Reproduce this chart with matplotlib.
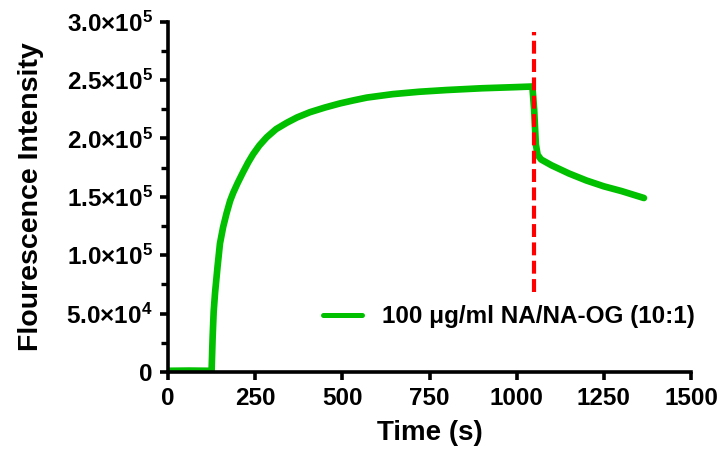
import matplotlib
matplotlib.use("Agg")
import matplotlib.pyplot as plt
from matplotlib.ticker import FixedLocator, MultipleLocator

# ----------------------------------------------------------------------
# Data
# ----------------------------------------------------------------------
time_s = [0, 60, 125, 128, 131, 135, 142, 149, 158, 168, 178, 187, 200,
          215, 230, 244, 262, 283, 310, 341, 370, 407, 450, 493, 530, 570,
          645, 720, 800, 900, 1000, 1045, 1050, 1055, 1060, 1070, 1100,
          1150, 1200, 1250, 1300, 1365]
intensity = [1000, 1200, 1000, 30000, 52000, 68000, 90000, 110000, 124000,
             136000, 146500, 153500, 162000, 171000, 179500, 186500, 194000,
             201000, 208000, 213500, 218000, 222500, 226500, 230000, 232500,
             235000, 238000, 240000, 241500, 243000, 244000, 244500, 225000,
             195000, 186000, 182000, 177000, 170000, 164000, 159000, 155000,
             149000]

event_time = 1050
event_span = [68500, 291000]

series_label = "100 \u03bcg/ml NA/NA-OG (10:1)"
x_ticks = [0, 250, 500, 750, 1000, 1250, 1500]
y_ticks = [0, 50000, 100000, 150000, 200000, 250000, 300000]
y_tick_labels = ["0", r"$\mathbf{5.0{\times}10^{4}}$",
                 r"$\mathbf{1.0{\times}10^{5}}$",
                 r"$\mathbf{1.5{\times}10^{5}}$",
                 r"$\mathbf{2.0{\times}10^{5}}$",
                 r"$\mathbf{2.5{\times}10^{5}}$",
                 r"$\mathbf{3.0{\times}10^{5}}$"]

# ----------------------------------------------------------------------
# Style
# ----------------------------------------------------------------------
plt.rcParams["font.family"] = ["Liberation Sans", "DejaVu Sans"]
plt.rcParams["font.weight"] = "bold"
plt.rcParams["mathtext.fontset"] = "custom"
plt.rcParams["mathtext.bf"] = "Liberation Sans:bold"
plt.rcParams["mathtext.rm"] = "Liberation Sans:bold"

GREEN = "#00C000"
RED = "#FF0000"

fig = plt.figure(figsize=(7.22, 4.58), dpi=100)
ax = fig.add_axes([0.2327, 0.1878, 0.7244, 0.7648])

ax.plot(time_s, intensity, color=GREEN, linewidth=4.8,
        solid_joinstyle="round", solid_capstyle="round",
        label=series_label, zorder=2)
ax.vlines(event_time, event_span[0], event_span[1], colors=RED,
          linewidth=3, linestyles=(0, (3.1, 1.3)), zorder=3)

ax.set_xlim(0, 1500)
ax.set_ylim(0, 300000)

ax.xaxis.set_major_locator(FixedLocator(x_ticks))
ax.set_xticklabels([str(t) for t in x_ticks])
ax.yaxis.set_major_locator(FixedLocator(y_ticks))
ax.set_yticklabels(y_tick_labels)
ax.yaxis.set_minor_locator(MultipleLocator(25000))

for side in ("top", "right"):
    ax.spines[side].set_visible(False)
for side in ("left", "bottom"):
    ax.spines[side].set_linewidth(2.6)

ax.tick_params(axis="both", which="major", direction="out", length=6,
               width=2.6, labelsize=17.5, pad=5)
ax.tick_params(axis="y", which="minor", direction="out", length=5,
               width=2.4)
for lab in ax.get_xticklabels() + ax.get_yticklabels():
    lab.set_fontweight("bold")

ax.set_xlabel("Time (s)", fontsize=20, fontweight="bold", labelpad=7)
ax.set_ylabel("Flourescence Intensity", fontsize=20.5, fontweight="bold",
              labelpad=16)

leg = ax.legend(loc="center left", bbox_to_anchor=(0.296, 0.157),
                frameon=False, handlelength=1.6, handletextpad=0.85,
                borderpad=0, borderaxespad=0,
                prop={"weight": "bold", "size": 17.5})
for h in leg.get_lines():
    h.set_linewidth(3.6)

fig.savefig("out.png", dpi=100)
plt.close(fig)
